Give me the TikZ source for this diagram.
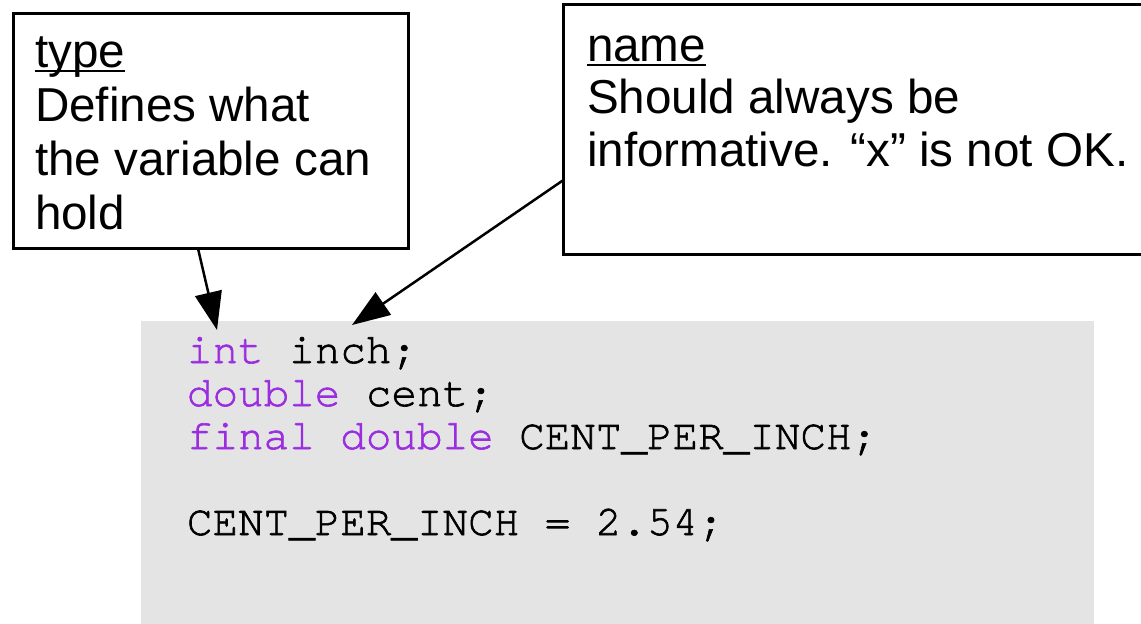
\documentclass[tikz,border=0pt]{standalone}
\usepackage{fontspec}
\setmainfont{Liberation Sans}
\newfontfamily\codefont{TeX Gyre Cursor}[Ligatures=NoCommon, UprightFeatures={FakeBold=1.5}]
\usetikzlibrary{arrows.meta}
\definecolor{kw}{RGB}{155,45,225}
\definecolor{codebg}{RGB}{228,228,228}
\tikzset{
  callout/.style={draw=black, line width=3pt, fill=white, inner sep=0pt, outer sep=0pt, anchor=north west},
  codebox/.style={fill=codebg, draw=none, inner sep=0pt, outer sep=0pt, anchor=north west},
  lbl/.style={anchor=base west, inner sep=0pt, outer sep=0pt, font=\fontsize{47.6}{54}\selectfont},
  codeline/.style={anchor=base west, inner sep=0pt, outer sep=0pt, font=\codefont\fontsize{42.6}{43}\selectfont},
  pointer/.style={line width=2.5pt, -{Triangle[length=38pt,width=27pt]}},
  uline/.style={line width=2pt},
}
\begin{document}
\begin{tikzpicture}[x=1pt,y=1pt]
\useasboundingbox (0,0) rectangle (1141,-624);
\clip (0,0) rectangle (1141,-624);
% code area
\node[codebox, minimum width=953, minimum height=320] (code) at (141,-321) {};
\node[codeline] (c1) at (187,-363) {\textcolor{kw}{int} inch;};
\node[codeline] (c2) at (187,-406) {\textcolor{kw}{double} cent;};
\node[codeline] (c3) at (187,-449) {\textcolor{kw}{final double} CENT\_PER\_INCH;};
\node[codeline] (c4) at (187,-535) {CENT\_PER\_INCH = 2.54;};
% type callout
\node[callout, minimum width=395, minimum height=235] (typebox) at (13.5,-13.5) {};
\node[lbl] (t0) at (35,-67) {type};
\node[lbl] (t1) at (35,-121) {Defines what};
\node[lbl] (t2) at (35,-175) {the variable can};
\node[lbl] (t3) at (35,-229) {hold};
\draw[uline] ([yshift=-4pt]t0.base west) -- ([yshift=-4pt]t0.base east);
% name callout
\node[callout, minimum width=600, minimum height=250] (namebox) at (563.5,-4.5) {};
\node[lbl] (n0) at (587,-61) {name};
\node[lbl] (n1) at (587,-113) {Should always be};
\node[lbl] (n2) at (587,-166) {informative. “x” is not OK.};
\draw[uline] ([yshift=-4pt]n0.base west) -- ([yshift=-4pt]n0.base east);
% pointers
\coordinate (tipA) at (217,-330);
\coordinate (tipB) at (352,-325);
\draw[pointer] ([xshift=184.5pt]typebox.south west) -- (tipA);
\draw[pointer] ([yshift=-50.5pt]namebox.west) -- (tipB);
\end{tikzpicture}
\end{document}
